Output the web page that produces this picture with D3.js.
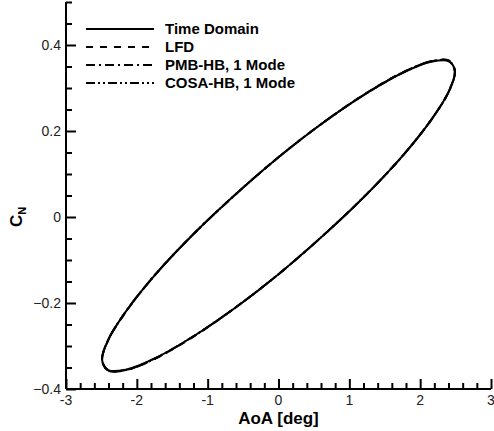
<!DOCTYPE html>
<html><head><meta charset="utf-8">
<script src="https://cdn.jsdelivr.net/npm/d3@7"></script>
<style>body{margin:0;background:#fff}svg{display:block}text{font-family:"Liberation Sans",Arial,sans-serif}</style>
</head><body><svg id="c" width="494" height="431"></svg>
<script>
// AoA [deg] and C_N values read along the hysteresis loop
const aoa = [2.49, 2.405, 2.156, 1.761, 1.245, 0.644, 0, -0.644, -1.245, -1.761, -2.156, -2.405,
             -2.49, -2.405, -2.156, -1.761, -1.245, -0.644, 0, 0.644, 1.245, 1.761, 2.156, 2.405];
const cnTime = [0.339, 0.362, 0.361, 0.336, 0.288, 0.221, 0.139, 0.047, -0.047, -0.138, -0.220, -0.286,
                -0.333, -0.356, -0.355, -0.330, -0.282, -0.215, -0.133, -0.041, 0.053, 0.144, 0.226, 0.292];
const cnLFD = [0.340, 0.364, 0.362, 0.337, 0.289, 0.221, 0.139, 0.047, -0.047, -0.138, -0.221, -0.287,
               -0.334, -0.357, -0.356, -0.331, -0.283, -0.215, -0.133, -0.041, 0.053, 0.144, 0.226, 0.293];
const cnPMB = [0.339, 0.363, 0.362, 0.337, 0.288, 0.221, 0.139, 0.047, -0.047, -0.138, -0.220, -0.286,
               -0.333, -0.356, -0.356, -0.331, -0.282, -0.215, -0.133, -0.041, 0.053, 0.144, 0.226, 0.292];
const cnCOSA = [0.339, 0.363, 0.362, 0.336, 0.288, 0.221, 0.139, 0.047, -0.047, -0.138, -0.220, -0.286,
                -0.333, -0.357, -0.356, -0.330, -0.282, -0.215, -0.133, -0.041, 0.053, 0.144, 0.226, 0.292];
const seriesNames = ["Time Domain", "LFD", "PMB-HB, 1 Mode", "COSA-HB, 1 Mode"];
const seriesDash = ["none", "7,7", "9,4,2,4", "9,3,2,3,2,3"];
const seriesValues = [cnTime, cnLFD, cnPMB, cnCOSA];
const xTicks = [-3, -2, -1, 0, 1, 2, 3];
const yTicks = [-0.4, -0.2, 0, 0.2, 0.4];

const svg = d3.select("#c");
const x = d3.scaleLinear().domain([-3, 3]).range([66, 491]);
const y = d3.scaleLinear().domain([-0.4, 0.5]).range([389, 2]);

// curves
const line = d3.line().x(d => x(d[0])).y(d => y(d[1])).curve(d3.curveCatmullRomClosed.alpha(0.5));
seriesValues.forEach((vals, i) => {
  const pts = aoa.map((a, j) => [a, vals[j]]);
  svg.append("path").attr("d", line(pts)).attr("fill", "none").attr("stroke", "#000")
    .attr("stroke-width", 2).attr("stroke-dasharray", seriesDash[i]);
});

// axes
const xMinor = d3.range(-3, 3.001, 0.2).filter(v => !xTicks.some(t => Math.abs(t - v) < 1e-6));
const yMinor = d3.range(-0.4, 0.5001, 0.05).filter(v => !yTicks.some(t => Math.abs(t - v) < 1e-6));

const xAxisMaj = d3.axisTop(x).tickValues(xTicks).tickSize(10).tickFormat("");
const xAxisMin = d3.axisTop(x).tickValues(xMinor).tickSize(6).tickFormat("");
const yAxisMaj = d3.axisRight(y).tickValues(yTicks).tickSize(10).tickFormat("");
const yAxisMin = d3.axisRight(y).tickValues(yMinor).tickSize(6).tickFormat("");

function style(g) {
  g.selectAll("path").attr("stroke", "#000").attr("stroke-width", 2);
  g.selectAll("line").attr("stroke", "#000").attr("stroke-width", 2);
}
svg.append("g").attr("transform", "translate(0,389)").call(xAxisMin).call(style).select(".domain").remove();
svg.append("g").attr("transform", "translate(0,389)").call(xAxisMaj).call(style).select(".domain").attr("d", "M66,0H491");
svg.append("g").attr("transform", "translate(66,0)").call(yAxisMin).call(style).select(".domain").remove();
svg.append("g").attr("transform", "translate(66,0)").call(yAxisMaj).call(style).select(".domain").attr("d", "M0,2V389");

// tick labels
svg.append("g").selectAll("text").data(xTicks).join("text")
  .attr("x", d => x(d)).attr("y", 405).attr("text-anchor", "middle")
  .attr("font-size", 14).attr("fill", "#222").text(d => d);
svg.append("g").selectAll("text").data(yTicks).join("text")
  .attr("x", 61).attr("y", d => y(d) + 5).attr("text-anchor", "end")
  .attr("font-size", 14).attr("fill", "#222").text(d => d === 0 ? "0" : d3.format(".1f")(d));

// axis titles
svg.append("text").attr("x", x(0)).attr("y", 424).attr("text-anchor", "middle")
  .attr("font-size", 17).attr("font-weight", "bold").text("AoA [deg]");
const yt = svg.append("text").attr("transform", `translate(22,${y(0)}) rotate(-90)`)
  .attr("text-anchor", "middle").attr("font-weight", "bold").attr("font-size", 17);
yt.append("tspan").text("C");
yt.append("tspan").attr("font-size", 11).attr("dy", 4).text("N");

// legend
seriesNames.forEach((n, i) => {
  const ly = 29 + i * 18;
  svg.append("line").attr("x1", 86).attr("x2", 154).attr("y1", ly).attr("y2", ly)
    .attr("stroke", "#000").attr("stroke-width", 2).attr("stroke-dasharray", seriesDash[i]);
  svg.append("text").attr("x", 165).attr("y", ly + 5).attr("font-size", 15)
    .attr("font-weight", "bold").text(n);
});
</script></body></html>
